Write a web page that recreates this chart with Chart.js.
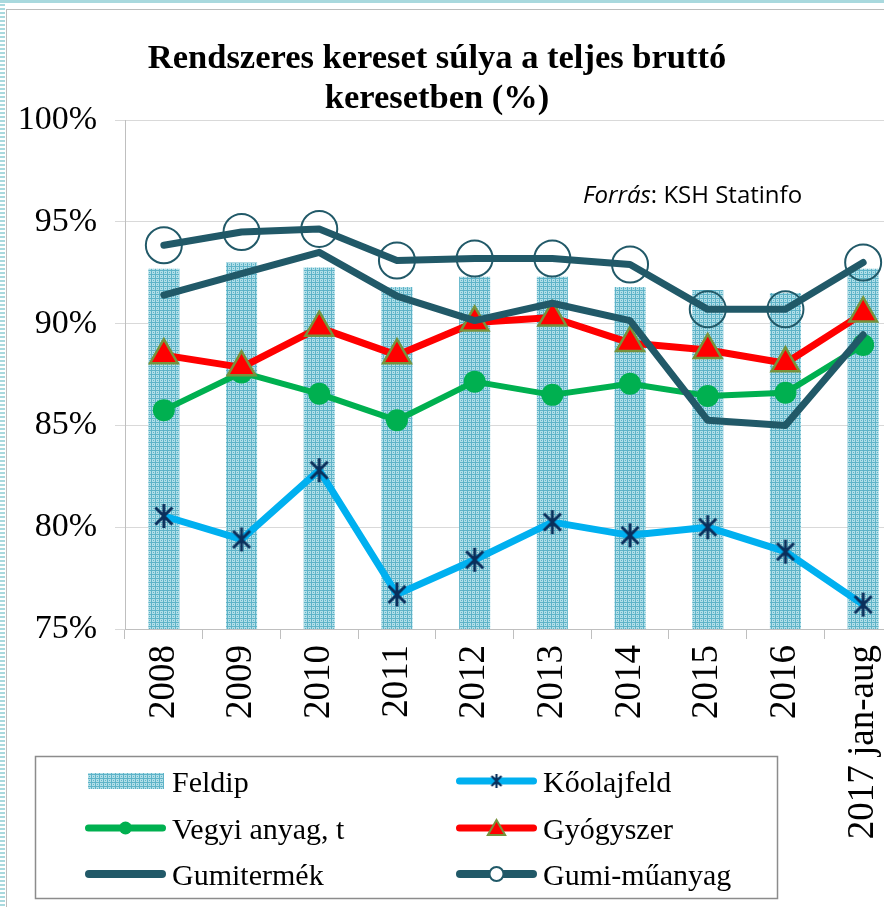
<!DOCTYPE html>
<html>
<head>
<meta charset="utf-8">
<script src="https://cdn.jsdelivr.net/npm/chart.js@4"></script>
<style>
  html, body { margin: 0; padding: 0; width: 884px; height: 907px; overflow: hidden; background: #fff; }
  #stripes { position: absolute; left: 0; top: 0; width: 5px; height: 907px;
    background: repeating-linear-gradient(to bottom, #a9d9de 0 2.5px, #fff 2.5px 4px); }
  #topband { position: absolute; left: 0; top: 0; width: 884px; height: 3px; background: #a9d9de; }
  #frame { position: absolute; left: 6px; top: 9px; width: 940px; height: 920px;
    border-left: 1px solid #bcbcbc; border-top: 1px solid #bcbcbc; background: #fff; }
  #c { position: absolute; left: 0; top: 0; }
</style>
</head>
<body>
<div id="stripes"></div>
<div id="topband"></div>
<div id="frame">
  <canvas id="c" width="915" height="897"></canvas>
</div>
<script>
// Adatok
const categories = ['2008', '2009', '2010', '2011', '2012', '2013', '2014', '2015', '2016', '2017 jan-aug'];
const feldip      = [92.7, 93.0, 92.75, 91.8, 92.3, 92.3, 91.8, 91.65, 91.5, 92.7];
const koolajfeld  = [80.55, 79.4, 82.8, 76.7, 78.4, 80.25, 79.6, 80.0, 78.8, 76.2];
const vegyiAnyag  = [85.75, 87.6, 86.55, 85.25, 87.15, 86.5, 87.05, 86.45, 86.6, 88.95];
const gyogyszer   = [88.45, 87.85, 89.8, 88.45, 90.05, 90.3, 89.05, 88.7, 88.05, 90.5];
const gumitermek  = [91.4, 92.45, 93.5, 91.35, 90.15, 91.0, 90.15, 85.25, 85.0, 89.45];
const gumiMuanyag = [93.85, 94.5, 94.65, 93.1, 93.2, 93.2, 92.9, 90.7, 90.7, 93.0];

const yTicks = [75, 80, 85, 90, 95, 100];
const titleLines = ['Rendszeres kereset súlya a teljes bruttó', 'keresetben (%)'];
const seriesNames = ['Feldip', 'Kőolajfeld', 'Vegyi anyag, t', 'Gyógyszer', 'Gumitermék', 'Gumi-műanyag'];

// Színek
const colors = {
  feldipLight: '#b2dfe8',
  feldipDark: '#5eb3c8',
  koolaj: '#00b0f0',
  star: '#0b2f5b',
  vegyi: '#00b050',
  gyogy: '#ff0000',
  gyogyBorder: '#77933c',
  gumi: '#215968'
};

const canvas = document.getElementById('c');
const ctx = canvas.getContext('2d');

// Mintázott kitöltés az oszlopokhoz
function makePattern() {
  const c = document.createElement('canvas');
  c.width = c.height = 4;
  const g = c.getContext('2d');
  g.fillStyle = colors.feldipLight;
  g.fillRect(0, 0, 4, 4);
  g.fillStyle = colors.feldipDark;
  g.fillRect(0, 0, 4, 1);
  g.fillRect(0, 0, 1, 4);
  g.fillRect(2, 2, 1, 1);
  return ctx.createPattern(c, 'repeat');
}
const barPattern = makePattern();

// Csillag jelölő (X + függőleges vonal)
function makeStar(size, lw) {
  const c = document.createElement('canvas');
  c.width = c.height = size;
  const g = c.getContext('2d');
  g.strokeStyle = colors.star;
  g.lineWidth = lw;
  const m = size / 2, r = size / 2 - 1;
  g.beginPath();
  [45, 90, 135].forEach(a => {
    const rad = a * Math.PI / 180;
    g.moveTo(m - r * Math.cos(rad), m - r * Math.sin(rad));
    g.lineTo(m + r * Math.cos(rad), m + r * Math.sin(rad));
  });
  g.stroke();
  return c;
}
const starBig = makeStar(26, 3);
const starSmall = makeStar(16, 2.2);

function drawMarker(c, type, x, y) {
  c.save();
  if (type === 'dot') {
    c.fillStyle = colors.vegyi;
    c.beginPath(); c.arc(x, y, 6.5, 0, Math.PI * 2); c.fill();
  } else if (type === 'tri') {
    const r = 10;
    c.fillStyle = colors.gyogy;
    c.strokeStyle = colors.gyogyBorder;
    c.lineWidth = 2;
    c.beginPath();
    for (let i = 0; i < 3; i++) {
      const a = i * 2 * Math.PI / 3;
      const px = x + Math.sin(a) * r, py = y + 2 - Math.cos(a) * r;
      i ? c.lineTo(px, py) : c.moveTo(px, py);
    }
    c.closePath(); c.fill(); c.stroke();
  } else if (type === 'star') {
    c.drawImage(starSmall, x - 8, y - 8);
  } else if (type === 'circle') {
    c.strokeStyle = colors.gumi;
    c.lineWidth = 2;
    c.fillStyle = '#fff';
    c.beginPath(); c.arc(x, y, 7, 0, Math.PI * 2); c.fill(); c.stroke();
  }
  c.restore();
}

function legendLine(c, x1, x2, y, color, lw) {
  c.save();
  c.strokeStyle = color;
  c.lineWidth = lw;
  c.lineCap = 'round';
  c.beginPath();
  c.moveTo(x1 + lw / 2, y);
  c.lineTo(x2 - lw / 2, y);
  c.stroke();
  c.restore();
}

// Cím, forrás és jelmagyarázat
const overlayPlugin = {
  id: 'overlay',
  afterDraw(chart) {
    const c = chart.ctx;
    c.save();
    c.fillStyle = '#000';
    c.textAlign = 'center';
    c.textBaseline = 'middle';
    c.font = 'bold 34.5px "Liberation Serif"';
    c.fillText(titleLines[0], 430, 49);
    c.fillText(titleLines[1], 430, 89);

    // Forrás
    c.textAlign = 'left';
    c.textBaseline = 'alphabetic';
    c.font = 'italic 24px "Open Sans"';
    c.fillText('Forrás', 576, 193);
    const w = c.measureText('Forrás').width;
    c.font = '24px "Open Sans"';
    c.fillText(': KSH Statinfo', 576 + w, 193);

    // Jelmagyarázat doboz
    c.fillStyle = '#fff';
    c.fillRect(28, 746, 742, 142);
    c.strokeStyle = '#8c8c8c';
    c.lineWidth = 1.5;
    c.strokeRect(28.5, 746.5, 742, 142);

    const rows = [771, 818, 864];
    const c1 = 78, c1e = 159, c2 = 449, c2e = 530;

    c.fillStyle = barPattern;
    c.fillRect(81, 763, 76, 16);

    legendLine(c, c2, c2e, rows[0], colors.koolaj, 7);
    drawMarker(c, 'star', (c2 + c2e) / 2, rows[0]);

    legendLine(c, c1, c1e, rows[1], colors.vegyi, 7);
    drawMarker(c, 'dot', (c1 + c1e) / 2, rows[1]);

    legendLine(c, c2, c2e, rows[1], colors.gyogy, 7);
    drawMarker(c, 'tri', (c2 + c2e) / 2, rows[1]);

    legendLine(c, c1, c1e, rows[2], colors.gumi, 8);

    legendLine(c, c2, c2e, rows[2], colors.gumi, 8);
    drawMarker(c, 'circle', (c2 + c2e) / 2, rows[2]);

    c.fillStyle = '#000';
    c.font = '30px "Liberation Serif"';
    c.fillText(seriesNames[0], 165, rows[0] + 11);
    c.fillText(seriesNames[1], 536, rows[0] + 11);
    c.fillText(seriesNames[2], 165, rows[1] + 11);
    c.fillText(seriesNames[3], 536, rows[1] + 11);
    c.fillText(seriesNames[4], 165, rows[2] + 11);
    c.fillText(seriesNames[5], 536, rows[2] + 11);
    c.restore();
  }
};

new Chart(ctx, {
  type: 'bar',
  data: {
    labels: categories,
    datasets: [
      {
        type: 'bar',
        label: seriesNames[0],
        data: feldip,
        backgroundColor: barPattern,
        borderWidth: 0,
        barPercentage: 0.4,
        categoryPercentage: 1.0,
        order: 6
      },
      {
        type: 'line',
        label: seriesNames[1],
        data: koolajfeld,
        borderColor: colors.koolaj,
        borderWidth: 7,
        borderJoinStyle: 'round',
        pointStyle: starBig,
        pointRadius: 13,
        fill: false,
        tension: 0,
        order: 5
      },
      {
        type: 'line',
        label: seriesNames[2],
        data: vegyiAnyag,
        borderColor: colors.vegyi,
        borderWidth: 6,
        borderJoinStyle: 'round',
        pointStyle: 'circle',
        pointRadius: 11,
        pointBackgroundColor: colors.vegyi,
        pointBorderColor: colors.vegyi,
        pointBorderWidth: 0,
        fill: false,
        tension: 0,
        order: 4
      },
      {
        type: 'line',
        label: seriesNames[3],
        data: gyogyszer,
        borderColor: colors.gyogy,
        borderWidth: 7,
        borderJoinStyle: 'round',
        pointStyle: 'triangle',
        pointRadius: 16,
        pointBackgroundColor: colors.gyogy,
        pointBorderColor: colors.gyogyBorder,
        pointBorderWidth: 2.5,
        fill: false,
        tension: 0,
        order: 3
      },
      {
        type: 'line',
        label: seriesNames[4],
        data: gumitermek,
        borderColor: colors.gumi,
        borderWidth: 7,
        borderJoinStyle: 'round',
        borderCapStyle: 'round',
        pointRadius: 0,
        fill: false,
        tension: 0,
        order: 2
      },
      {
        type: 'line',
        label: seriesNames[5],
        data: gumiMuanyag,
        borderColor: colors.gumi,
        borderWidth: 7,
        borderJoinStyle: 'round',
        borderCapStyle: 'round',
        pointStyle: 'circle',
        pointRadius: 18,
        pointBackgroundColor: 'rgba(0,0,0,0)',
        pointBorderColor: colors.gumi,
        pointBorderWidth: 2,
        fill: false,
        tension: 0,
        order: 1
      }
    ]
  },
  options: {
    responsive: false,
    animation: false,
    layout: { padding: { top: 110, left: 0, right: 0, bottom: 0 } },
    plugins: {
      legend: { display: false },
      title: { display: false },
      tooltip: { enabled: false }
    },
    scales: {
      x: {
        offset: true,
        afterFit: s => { s.height = 278; },
        grid: { offset: true, drawOnChartArea: false, tickLength: 10, color: '#bfbfbf' },
        border: { color: '#bfbfbf' },
        ticks: {
          autoSkip: false,
          minRotation: 90,
          maxRotation: 90,
          padding: 6,
          color: '#000',
          font: { family: 'Liberation Serif', size: 37 }
        }
      },
      y: {
        min: yTicks[0],
        max: yTicks[yTicks.length - 1],
        afterFit: s => { s.width = 118; },
        afterBuildTicks: s => { s.ticks = yTicks.map(v => ({ value: v })); },
        grid: { color: '#d9d9d9', tickLength: 10 },
        border: { color: '#bfbfbf' },
        ticks: {
          padding: 18,
          color: '#000',
          font: { family: 'Liberation Serif', size: 34 },
          callback: v => v + '%'
        }
      }
    }
  },
  plugins: [overlayPlugin]
});
</script>
</body>
</html>
